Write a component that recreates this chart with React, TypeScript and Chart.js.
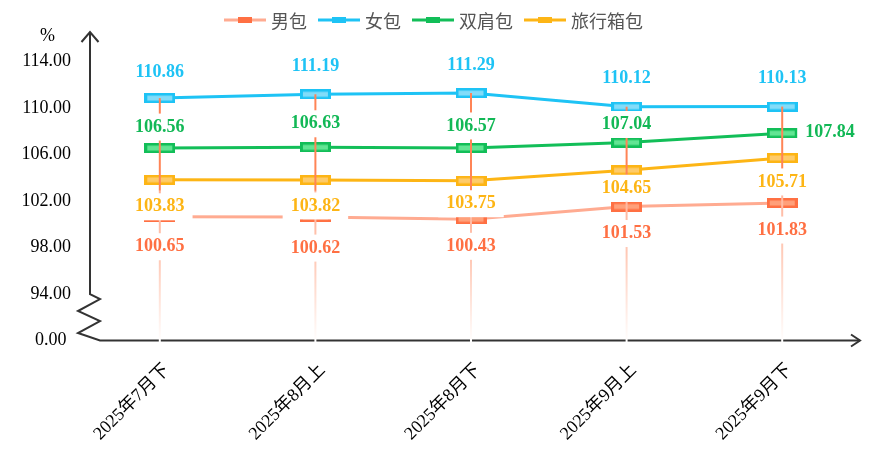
import React, { useEffect, useRef } from 'react';
import { Chart, registerables } from 'chart.js';

Chart.register(...registerables);

const categories = ['2025年7月下', '2025年8月上', '2025年8月下', '2025年9月上', '2025年9月下'];
const seriesNames = ['男包', '女包', '双肩包', '旅行箱包'];
const menBag = [100.65, 100.62, 100.43, 101.53, 101.83];
const womenBag = [110.86, 111.19, 111.29, 110.12, 110.13];
const backpack = [106.56, 106.63, 106.57, 107.04, 107.84];
const luggage = [103.83, 103.82, 103.75, 104.65, 105.71];
const yTickValues = [90, 94, 98, 102, 106, 110, 114];
const yTickLabels = ['0.00 ', '94.00', '98.00', '102.00', '106.00', '110.00', '114.00'];
const yUnit = '%';

const seriesValues = [menBag, womenBag, backpack, luggage];

const SERIF = "'Liberation Serif', 'Times New Roman', 'Noto Sans CJK SC', serif";
const CJK = "'Noto Sans CJK SC', 'Liberation Serif', serif";

// label placement (style): vertical offset of each data label from its point, in px
const styles = [
  { line: '#FFAB91', border: '#FF7043', fill: '#FFA07A', label: '#FF7043', legendRect: '#FF7043', offsets: [30, 31, 27, 27, 27] },
  { line: '#1EC3F5', border: '#1EC3F5', fill: '#82DCF9', label: '#1EC3F5', legendRect: '#1EC3F5', offsets: [-25.5, -27.5, -27.5, -28.5, -28.5] },
  { line: '#12BE58', border: '#12BE58', fill: '#62E593', label: '#12B856', legendRect: '#12BE58', offsets: [-21, -23.5, -22, -18, -1] },
  { line: '#FDB515', border: '#FDB515', fill: '#FECB6A', label: '#FDB515', legendRect: '#FDB515', offsets: [27, 26, 23, 18, 24] },
];

function makeMarker(border: string, fill: string): HTMLCanvasElement {
  const c = document.createElement('canvas');
  c.width = 31;
  c.height = 10;
  const g = c.getContext('2d')!;
  g.fillStyle = border;
  g.fillRect(0, 0, 31, 10);
  g.fillStyle = fill;
  g.fillRect(3, 2.5, 25, 5);
  return c;
}

export default function App() {
  const ref = useRef<HTMLCanvasElement | null>(null);

  useEffect(() => {
    document.body.style.margin = '0';
    const canvas = ref.current!;
    const markers = styles.map((s) => makeMarker(s.border, s.fill));

    const decor = {
      id: 'decor',
      beforeDatasetsDraw(chart: any) {
        const ctx = chart.ctx;
        const ys = chart.scales.y;
        const area = chart.chartArea;
        const ax = 90;
        const y94 = ys.getPixelForValue(94);
        const bottom = area.bottom;
        ctx.save();
        ctx.strokeStyle = '#333';
        ctx.lineWidth = 2;
        ctx.lineJoin = 'miter';
        ctx.beginPath();
        ctx.moveTo(ax, area.top);
        ctx.lineTo(ax, y94);
        ctx.lineTo(ax + 10, y94 + 5);
        ctx.lineTo(ax - 12, y94 + 17);
        ctx.lineTo(ax + 10, y94 + 27);
        ctx.lineTo(ax - 12, y94 + 39);
        ctx.lineTo(ax + 10, bottom);
        ctx.lineTo(area.right, bottom);
        ctx.stroke();
        ctx.beginPath();
        ctx.moveTo(ax - 8.5, area.top + 10);
        ctx.lineTo(ax, area.top);
        ctx.lineTo(ax + 8.5, area.top + 10);
        ctx.moveTo(area.right - 9, bottom - 6);
        ctx.lineTo(area.right, bottom);
        ctx.lineTo(area.right - 9, bottom + 6);
        ctx.stroke();
        ctx.fillStyle = '#000';
        ctx.font = `18px ${SERIF}`;
        ctx.textAlign = 'center';
        ctx.textBaseline = 'middle';
        ctx.fillText(yUnit, 47.5, 36);
        ctx.restore();
      },
      afterDatasetsDraw(chart: any) {
        const ctx = chart.ctx;
        const xs = chart.scales.x;
        const ys = chart.scales.y;
        const area = chart.chartArea;
        ctx.save();
        categories.forEach((_, i) => {
          const x = xs.getPixelForValue(i);
          const yTop = ys.getPixelForValue(womenBag[i]);
          const yMid = ys.getPixelForValue(luggage[i]) + 11;
          const yBot = area.bottom + 2;
          ctx.lineWidth = 2;
          ctx.strokeStyle = '#FF8456';
          ctx.beginPath();
          ctx.moveTo(x, yTop);
          ctx.lineTo(x, yMid);
          ctx.stroke();
          const grad = ctx.createLinearGradient(0, yMid, 0, yBot);
          grad.addColorStop(0, '#FFB096');
          grad.addColorStop(0.45, '#FFC9B6');
          grad.addColorStop(1, '#FFFFFF');
          ctx.strokeStyle = grad;
          ctx.beginPath();
          ctx.moveTo(x, yMid);
          ctx.lineTo(x, yBot);
          ctx.stroke();
        });
        ctx.font = `bold 18px ${SERIF}`;
        ctx.textBaseline = 'middle';
        seriesValues.forEach((vals, si) => {
          vals.forEach((v, i) => {
            const text = v.toFixed(2);
            const px = xs.getPixelForValue(i);
            const py = ys.getPixelForValue(v);
            const w = ctx.measureText(text).width;
            let cx = px;
            const cy = py + styles[si].offsets[i];
            if (si === 2 && i === vals.length - 1) {
              cx = px + 23 + w / 2;
            }
            ctx.fillStyle = '#FFFFFF';
            ctx.fillRect(cx - w / 2 - 8, cy - 13.5, w + 16, 27);
            ctx.fillStyle = styles[si].label;
            ctx.textAlign = 'center';
            ctx.fillText(text, cx, cy);
          });
        });
        ctx.restore();
      },
      afterDraw(chart: any) {
        const ctx = chart.ctx;
        ctx.save();
        ctx.font = `18px ${CJK}`;
        ctx.textBaseline = 'middle';
        ctx.textAlign = 'left';
        const symW = 42;
        const gap = 5;
        const itemGap = 11;
        const widths = seriesNames.map((n) => ctx.measureText(n).width);
        const total = widths.reduce((a, w) => a + symW + gap + w, 0) + itemGap * (seriesNames.length - 1);
        let x = 433.5 - total / 2;
        const cy = 20;
        seriesNames.forEach((name, i) => {
          ctx.fillStyle = styles[i].line;
          ctx.fillRect(x, cy - 1.5, symW, 3);
          ctx.fillStyle = styles[i].legendRect;
          ctx.fillRect(x + symW / 2 - 7, cy - 3, 14, 6);
          ctx.fillStyle = '#555';
          ctx.fillText(name, x + symW + gap, cy + 1);
          x += symW + gap + widths[i] + itemGap;
        });
        ctx.restore();
      },
    };

    const chart = new Chart(canvas, {
      type: 'line',
      data: {
        labels: categories,
        datasets: seriesValues.map((vals, i) => ({
          label: seriesNames[i],
          data: vals,
          borderColor: styles[i].line,
          backgroundColor: styles[i].fill,
          borderWidth: 3,
          pointStyle: markers[i] as any,
          pointRadius: 8,
          pointHoverRadius: 8,
          tension: 0,
          fill: false,
        })),
      },
      options: {
        animation: false,
        responsive: false,
        devicePixelRatio: 1,
        layout: { padding: { top: 32, right: 26, left: 0, bottom: 0 } },
        plugins: { legend: { display: false }, tooltip: { enabled: false } },
        scales: {
          x: {
            type: 'category',
            offset: true,
            grid: { display: false },
            border: { display: false },
            ticks: {
              autoSkip: false,
              maxRotation: 45,
              minRotation: 45,
              padding: 11,
              labelOffset: 7,
              color: '#000',
              font: { family: SERIF, size: 18 },
            },
            afterFit: (s: any) => {
              s.height = 116.5;
            },
          },
          y: {
            min: 90,
            max: 116.55,
            grid: { display: false },
            border: { display: false },
            ticks: {
              padding: 3,
              color: '#000',
              font: { family: SERIF, size: 18 },
              callback: (v: any) => {
                const idx = yTickValues.indexOf(Number(v));
                return idx >= 0 ? yTickLabels[idx] : '';
              },
            },
            afterBuildTicks: (s: any) => {
              s.ticks = yTickValues.map((v) => ({ value: v }));
            },
            afterFit: (s: any) => {
              s.width = 82;
            },
          },
        },
      },
      plugins: [decor],
    });
    return () => chart.destroy();
  }, []);

  return (
    <div style={{ width: 886, height: 457 }}>
      <canvas ref={ref} width={886} height={457} style={{ width: 886, height: 457, display: 'block' }} />
    </div>
  );
}
